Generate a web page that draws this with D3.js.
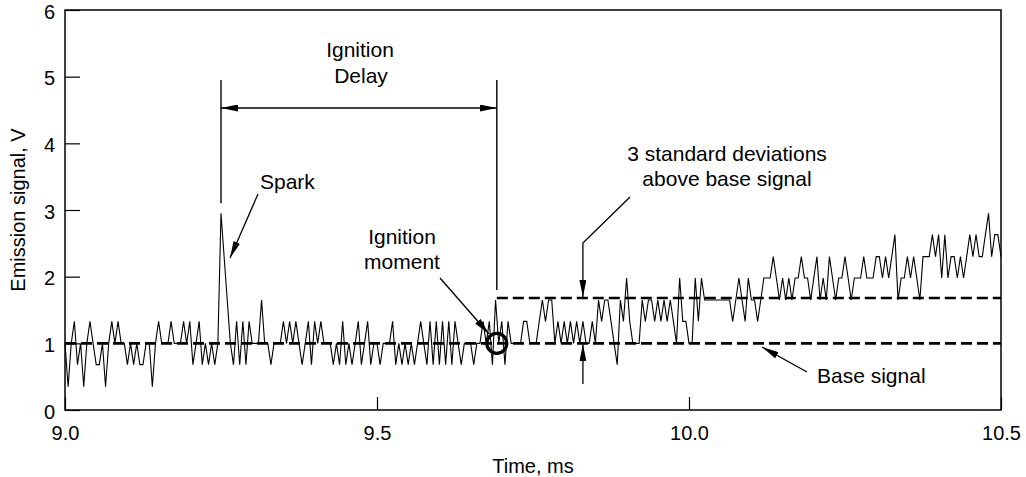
<!DOCTYPE html>
<html>
<head>
<meta charset="utf-8">
<script src="https://cdn.jsdelivr.net/npm/d3@7"></script>
<style>
  body { margin: 0; background: #fff; }
  svg { display: block; }
  text { font-family: Arial, "Liberation Sans", Helvetica, sans-serif; fill: #000; }
</style>
</head>
<body>
<svg id="chart" width="1026" height="477"></svg>
<script>
// Axis ticks
const xTicks = [9.0, 9.5, 10.0, 10.5];
const yTicks = [0, 1, 2, 3, 4, 5, 6];

// Sampled emission signal (V), one sample every 0.005 ms starting at 9.0 ms
const sampleStart = 9.0;
const sampleStep = 0.005;
const emission = [
  1.0, 0.35, 1.0, 1.33, 0.68, 1.0, 0.35, 1.0, 1.33, 1.0,
  0.68, 0.68, 1.0, 0.35, 1.0, 1.33, 1.0, 1.33, 1.0, 1.0,
  0.68, 1.0, 0.68, 1.0, 0.68, 0.68, 1.0, 1.0, 0.35, 1.0,
  1.33, 1.0, 1.0, 1.0, 1.33, 1.0, 1.0, 1.0, 1.33, 1.0,
  1.33, 0.68, 1.0, 1.33, 0.68, 1.0, 0.68, 1.0, 0.68, 1.0,
  2.95, 2.3, 1.65, 1.0, 0.68, 1.33, 0.68, 1.33, 0.68, 1.33,
  1.0, 1.0, 1.0, 1.65, 1.0, 1.0, 0.68, 1.0, 1.0, 1.0,
  1.33, 1.0, 1.33, 1.0, 1.33, 1.0, 0.68, 1.0, 1.33, 0.68,
  1.33, 1.0, 1.33, 1.0, 1.0, 1.0, 0.68, 1.0, 0.68, 1.33,
  0.68, 1.0, 0.68, 1.0, 1.33, 0.68, 1.0, 1.33, 0.68, 1.0,
  1.0, 0.68, 1.0, 1.0, 1.0, 1.33, 0.68, 1.0, 0.68, 1.0,
  0.68, 1.0, 0.68, 1.0, 1.33, 1.0, 0.68, 1.33, 0.68, 1.33,
  0.68, 1.33, 0.68, 1.33, 0.68, 1.33, 1.0, 0.68, 1.0, 1.0,
  1.0, 0.68, 1.0, 1.0, 1.33, 1.0, 1.33, 0.68, 1.65, 1.0,
  1.33, 0.68, 1.33, 1.0, 1.0, 1.0, 1.0, 1.33, 1.33, 1.0,
  1.0, 1.0, 1.33, 1.65, 1.33, 1.65, 1.65, 1.0, 1.33, 1.0,
  1.33, 1.0, 1.33, 1.0, 1.33, 1.0, 1.33, 1.0, 1.0, 1.33,
  1.0, 1.65, 1.33, 1.65, 1.65, 1.33, 1.0, 0.68, 1.65, 1.33,
  1.98, 1.33, 1.0, 1.0, 1.0, 1.65, 1.33, 1.65, 1.65, 1.33,
  1.65, 1.33, 1.65, 1.33, 1.65, 1.33, 1.0, 1.98, 1.33, 1.33,
  1.0, 1.0, 1.98, 1.33, 1.98, 1.65, 1.65, 1.65, 1.65, 1.65,
  1.65, 1.65, 1.65, 1.65, 1.33, 1.65, 1.98, 1.65, 1.33, 1.98,
  1.65, 1.65, 1.33, 1.65, 1.98, 1.98, 1.98, 2.3, 1.98, 1.65,
  1.98, 1.65, 1.98, 1.65, 1.98, 1.98, 2.3, 1.98, 1.98, 1.65,
  1.98, 2.3, 1.65, 1.98, 1.65, 2.3, 1.98, 1.65, 1.98, 1.98,
  2.3, 1.98, 1.65, 1.98, 1.98, 1.98, 2.3, 1.98, 1.98, 1.98,
  2.3, 2.3, 1.98, 2.3, 1.98, 2.3, 2.63, 1.65, 1.98, 1.98,
  2.3, 1.98, 2.3, 1.98, 1.65, 2.3, 2.3, 2.3, 2.63, 2.3,
  2.63, 1.98, 2.63, 1.98, 2.3, 2.3, 1.98, 2.3, 1.98, 2.3,
  2.63, 2.3, 2.63, 2.3, 2.3, 2.63, 2.95, 2.3, 2.63, 2.63, 2.3
];

// Reference levels and event times
const baseSignal = 1.0;        // mean base signal, V
const thresholdSignal = 1.68;  // base + 3 standard deviations, V
const sparkTime = 9.25;        // ms
const ignitionTime = 9.692;    // ms

const svg = d3.select("#chart");
const plotLeft = 65, plotRight = 1001, plotTop = 10, plotBottom = 410;

const x = d3.scaleLinear().domain([9.0, 10.5]).range([plotLeft, plotRight]);
const y = d3.scaleLinear().domain([0, 6]).range([plotBottom, plotTop]);

// Arrowhead marker
const defs = svg.append("defs");
defs.append("marker")
  .attr("id", "arrow")
  .attr("viewBox", "0 0 17 7")
  .attr("refX", 17).attr("refY", 3.5)
  .attr("markerWidth", 17).attr("markerHeight", 7)
  .attr("markerUnits", "userSpaceOnUse")
  .attr("orient", "auto-start-reverse")
  .append("path")
  .attr("d", "M0,0 L17,3.5 L0,7 Z")
  .attr("fill", "#000");

// Axes with inward ticks
const yAxis = svg.append("g")
  .attr("transform", `translate(${plotLeft},0)`)
  .call(d3.axisLeft(y).tickValues(yTicks).tickSize(-15).tickSizeOuter(0).tickPadding(10).tickFormat(d3.format("d")));
const xAxis = svg.append("g")
  .attr("transform", `translate(0,${plotBottom})`)
  .call(d3.axisBottom(x).tickValues(xTicks).tickSize(-13).tickSizeOuter(0).tickPadding(16).tickFormat(d3.format(".1f")));
[xAxis, yAxis].forEach(g => {
  g.select(".domain").remove();
  g.selectAll(".tick line").attr("stroke", "#000").attr("stroke-width", 1.2);
  g.selectAll(".tick text").attr("font-size", 20).attr("font-family", "Arial, 'Liberation Sans', sans-serif");
});
yAxis.selectAll(".tick text").attr("dy", "0.4em");

// Plot frame
svg.append("rect")
  .attr("x", plotLeft).attr("y", plotTop)
  .attr("width", plotRight - plotLeft).attr("height", plotBottom - plotTop)
  .attr("fill", "none").attr("stroke", "#000").attr("stroke-width", 1.5);

// Axis titles
svg.append("text")
  .attr("x", (plotLeft + plotRight) / 2).attr("y", 473)
  .attr("text-anchor", "middle").attr("font-size", 20)
  .text("Time, ms");
svg.append("text")
  .attr("transform", `translate(25,${(plotTop + plotBottom) / 2}) rotate(-90)`)
  .attr("text-anchor", "middle").attr("font-size", 20)
  .text("Emission signal, V");

// Dashed reference levels
svg.append("line")
  .attr("x1", x(9.0)).attr("x2", x(10.5))
  .attr("y1", y(baseSignal)).attr("y2", y(baseSignal))
  .attr("stroke", "#000").attr("stroke-width", 2.6).attr("stroke-dasharray", "11,5");
svg.append("line")
  .attr("x1", x(ignitionTime)).attr("x2", x(10.5))
  .attr("y1", y(thresholdSignal)).attr("y2", y(thresholdSignal))
  .attr("stroke", "#000").attr("stroke-width", 2.6).attr("stroke-dasharray", "11,5");

// Signal trace
const line = d3.line()
  .x((d, i) => x(sampleStart + i * sampleStep))
  .y(d => y(d));
svg.append("path")
  .datum(emission)
  .attr("d", line)
  .attr("fill", "none").attr("stroke", "#000").attr("stroke-width", 1.1)
  .attr("stroke-linejoin", "miter");

// Ignition delay markers
svg.append("line")
  .attr("x1", x(sparkTime)).attr("x2", x(sparkTime))
  .attr("y1", y(4.95)).attr("y2", y(3.1))
  .attr("stroke", "#000").attr("stroke-width", 1.4);
svg.append("line")
  .attr("x1", x(ignitionTime)).attr("x2", x(ignitionTime))
  .attr("y1", y(4.95)).attr("y2", y(1.8))
  .attr("stroke", "#000").attr("stroke-width", 1.4);
svg.append("line")
  .attr("x1", x(sparkTime)).attr("x2", x(ignitionTime))
  .attr("y1", y(4.53)).attr("y2", y(4.53))
  .attr("stroke", "#000").attr("stroke-width", 1.4)
  .attr("marker-start", "url(#arrow)").attr("marker-end", "url(#arrow)");
svg.append("text").attr("x", 360).attr("y", 57)
  .attr("text-anchor", "middle").attr("font-size", 21).text("Ignition");
svg.append("text").attr("x", 361).attr("y", 83)
  .attr("text-anchor", "middle").attr("font-size", 21).text("Delay");

// Spark label
svg.append("text").attr("x", 260).attr("y", 189).attr("font-size", 21).text("Spark");
svg.append("line")
  .attr("x1", 258).attr("y1", 194).attr("x2", 230).attr("y2", 258)
  .attr("stroke", "#000").attr("stroke-width", 1.3).attr("marker-end", "url(#arrow)");

// Ignition moment
svg.append("circle")
  .attr("cx", x(ignitionTime)).attr("cy", y(baseSignal)).attr("r", 10)
  .attr("fill", "none").attr("stroke", "#000").attr("stroke-width", 3.2);
svg.append("text").attr("x", 402).attr("y", 244)
  .attr("text-anchor", "middle").attr("font-size", 21).text("Ignition");
svg.append("text").attr("x", 402).attr("y", 269)
  .attr("text-anchor", "middle").attr("font-size", 21).text("moment");
svg.append("line")
  .attr("x1", 440).attr("y1", 278).attr("x2", 489).attr("y2", 334)
  .attr("stroke", "#000").attr("stroke-width", 1.3).attr("marker-end", "url(#arrow)");

// Three standard deviations annotation
svg.append("text").attr("x", 727).attr("y", 161)
  .attr("text-anchor", "middle").attr("font-size", 21).text("3 standard deviations");
svg.append("text").attr("x", 727).attr("y", 186)
  .attr("text-anchor", "middle").attr("font-size", 21).text("above base signal");
svg.append("polyline")
  .attr("points", `630,197 ${x(9.83)},243 ${x(9.83)},${y(thresholdSignal) - 1}`)
  .attr("fill", "none").attr("stroke", "#000").attr("stroke-width", 1.3)
  .attr("marker-end", "url(#arrow)");
svg.append("line")
  .attr("x1", x(9.83)).attr("x2", x(9.83))
  .attr("y1", 384).attr("y2", y(baseSignal) + 1)
  .attr("stroke", "#000").attr("stroke-width", 1.3).attr("marker-end", "url(#arrow)");

// Base signal label
svg.append("text").attr("x", 817).attr("y", 383).attr("font-size", 21).text("Base signal");
svg.append("line")
  .attr("x1", 807).attr("y1", 372).attr("x2", 762).attr("y2", 347)
  .attr("stroke", "#000").attr("stroke-width", 1.3).attr("marker-end", "url(#arrow)");
</script>
</body>
</html>
